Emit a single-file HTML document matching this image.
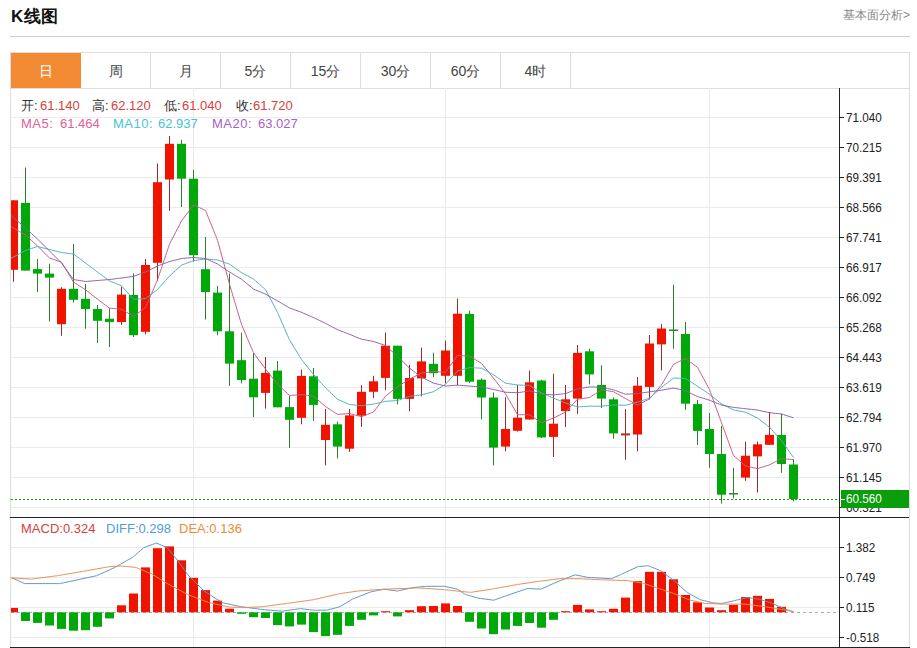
<!DOCTYPE html>
<html><head><meta charset="utf-8"><style>
*{margin:0;padding:0;box-sizing:border-box}
html,body{width:917px;height:648px;overflow:hidden;background:#fff;font-family:"Liberation Sans",sans-serif;position:relative}
.abs{position:absolute}
.title{position:absolute;left:11px;top:5.5px;font-size:17px;letter-spacing:0.6px;font-weight:bold;color:#111;line-height:22px}
.more{position:absolute;left:843px;top:7px;font-size:12px;color:#888;line-height:16px}
.hr{position:absolute;left:10px;top:36px;width:900px;height:1px;background:#d0d0d0}
.box{position:absolute;left:10px;top:52px;width:900px;height:596px;border:1px solid #ddd;border-bottom:none}
.tabrow{position:absolute;left:10px;top:88px;width:900px;height:1px;background:#ddd}
.tab{position:absolute;top:53px;width:70px;height:35px;border-right:1px solid #ddd;text-align:center;font-size:14px;line-height:36px;color:#444}
.tab.on{background:#f28a34;color:#fff;width:70px;border-right:none}
.yl{position:absolute;left:846px;font-size:13px;line-height:17px;color:#222;transform:scaleX(0.9);transform-origin:left}
.pl{position:absolute;left:846px;top:490px;font-size:13px;line-height:18px;color:#fff;transform:scaleX(0.9);transform-origin:left}
.leg{position:absolute;font-size:13px;line-height:16px;white-space:nowrap}
svg{position:absolute;left:0;top:0}
</style></head><body>
<div class="title">K线图</div>
<div class="more">基本面分析&gt;</div>
<div class="hr"></div>
<div class="box"></div>
<div class="tab on" style="left:11px">日</div><div class="tab" style="left:81px">周</div><div class="tab" style="left:151px">月</div><div class="tab" style="left:221px">5分</div><div class="tab" style="left:291px">15分</div><div class="tab" style="left:361px">30分</div><div class="tab" style="left:431px">60分</div><div class="tab" style="left:501px">4时</div>
<div class="tabrow"></div>
<svg width="917" height="648" viewBox="0 0 917 648"><line x1="11" y1="117.5" x2="839" y2="117.5" stroke="#ebebeb" stroke-width="1"/><line x1="11" y1="147.5" x2="839" y2="147.5" stroke="#ebebeb" stroke-width="1"/><line x1="11" y1="177.5" x2="839" y2="177.5" stroke="#ebebeb" stroke-width="1"/><line x1="11" y1="207.5" x2="839" y2="207.5" stroke="#ebebeb" stroke-width="1"/><line x1="11" y1="237.5" x2="839" y2="237.5" stroke="#ebebeb" stroke-width="1"/><line x1="11" y1="267.5" x2="839" y2="267.5" stroke="#ebebeb" stroke-width="1"/><line x1="11" y1="297.5" x2="839" y2="297.5" stroke="#ebebeb" stroke-width="1"/><line x1="11" y1="327.5" x2="839" y2="327.5" stroke="#ebebeb" stroke-width="1"/><line x1="11" y1="357.5" x2="839" y2="357.5" stroke="#ebebeb" stroke-width="1"/><line x1="11" y1="387.5" x2="839" y2="387.5" stroke="#ebebeb" stroke-width="1"/><line x1="11" y1="417.5" x2="839" y2="417.5" stroke="#ebebeb" stroke-width="1"/><line x1="11" y1="447.5" x2="839" y2="447.5" stroke="#ebebeb" stroke-width="1"/><line x1="11" y1="477.5" x2="839" y2="477.5" stroke="#ebebeb" stroke-width="1"/><line x1="11" y1="507.5" x2="839" y2="507.5" stroke="#ebebeb" stroke-width="1"/><line x1="11" y1="547.5" x2="839" y2="547.5" stroke="#ebebeb" stroke-width="1"/><line x1="11" y1="577.5" x2="839" y2="577.5" stroke="#ebebeb" stroke-width="1"/><line x1="11" y1="607.5" x2="839" y2="607.5" stroke="#ebebeb" stroke-width="1"/><line x1="11" y1="637.5" x2="839" y2="637.5" stroke="#ebebeb" stroke-width="1"/><line x1="193.5" y1="88" x2="193.5" y2="647" stroke="#ebebeb" stroke-width="1"/><line x1="445.5" y1="88" x2="445.5" y2="647" stroke="#ebebeb" stroke-width="1"/><line x1="709.5" y1="88" x2="709.5" y2="647" stroke="#ebebeb" stroke-width="1"/><clipPath id="cm"><rect x="11" y="89" width="828" height="428"/></clipPath><clipPath id="cd"><rect x="11" y="518" width="828" height="129"/></clipPath><g clip-path="url(#cm)"><rect x="13" y="200.3" width="1" height="81.5" fill="#a02a2a"/><rect x="9" y="200.3" width="9" height="69.5" fill="#f01400"/><rect x="25" y="167.5" width="1" height="103.1" fill="#2c802c"/><rect x="21" y="202.9" width="9" height="67.7" fill="#00a80a"/><rect x="37" y="259.0" width="1" height="33.0" fill="#2c802c"/><rect x="33" y="269.1" width="9" height="4.5" fill="#00a80a"/><rect x="49" y="263.7" width="1" height="57.6" fill="#2c802c"/><rect x="45" y="273.6" width="9" height="4.0" fill="#00a80a"/><rect x="61" y="287.2" width="1" height="48.6" fill="#a02a2a"/><rect x="57" y="288.8" width="9" height="35.4" fill="#f01400"/><rect x="73" y="244.0" width="1" height="58.5" fill="#2c802c"/><rect x="69" y="288.8" width="9" height="11.0" fill="#00a80a"/><rect x="85" y="284.0" width="1" height="44.7" fill="#2c802c"/><rect x="81" y="298.8" width="9" height="10.2" fill="#00a80a"/><rect x="97" y="305.0" width="1" height="38.0" fill="#2c802c"/><rect x="93" y="309.0" width="9" height="11.8" fill="#00a80a"/><rect x="109" y="308.2" width="1" height="38.8" fill="#2c802c"/><rect x="105" y="318.7" width="9" height="3.4" fill="#00a80a"/><rect x="121" y="286.7" width="1" height="38.1" fill="#a02a2a"/><rect x="117" y="294.6" width="9" height="27.5" fill="#f01400"/><rect x="133" y="273.4" width="1" height="63.6" fill="#2c802c"/><rect x="129" y="295.0" width="9" height="40.2" fill="#00a80a"/><rect x="145" y="259.0" width="1" height="75.5" fill="#a02a2a"/><rect x="141" y="265.0" width="9" height="66.8" fill="#f01400"/><rect x="157" y="163.5" width="1" height="117.3" fill="#a02a2a"/><rect x="153" y="182.2" width="9" height="80.6" fill="#f01400"/><rect x="169" y="136.0" width="1" height="74.9" fill="#a02a2a"/><rect x="165" y="143.8" width="9" height="35.7" fill="#f01400"/><rect x="181" y="139.8" width="1" height="67.2" fill="#2c802c"/><rect x="177" y="143.8" width="9" height="34.9" fill="#00a80a"/><rect x="193" y="170.0" width="1" height="91.5" fill="#2c802c"/><rect x="189" y="178.7" width="9" height="76.5" fill="#00a80a"/><rect x="205" y="237.0" width="1" height="82.5" fill="#2c802c"/><rect x="201" y="269.2" width="9" height="22.8" fill="#00a80a"/><rect x="217" y="286.1" width="1" height="49.1" fill="#2c802c"/><rect x="213" y="292.6" width="9" height="38.7" fill="#00a80a"/><rect x="229" y="273.5" width="1" height="112.4" fill="#2c802c"/><rect x="225" y="331.3" width="9" height="32.3" fill="#00a80a"/><rect x="241" y="332.6" width="1" height="50.8" fill="#2c802c"/><rect x="237" y="360.2" width="9" height="19.8" fill="#00a80a"/><rect x="253" y="353.0" width="1" height="64.1" fill="#2c802c"/><rect x="249" y="378.7" width="9" height="18.6" fill="#00a80a"/><rect x="265" y="357.0" width="1" height="51.6" fill="#a02a2a"/><rect x="261" y="372.9" width="9" height="20.0" fill="#f01400"/><rect x="277" y="361.0" width="1" height="46.3" fill="#2c802c"/><rect x="273" y="370.6" width="9" height="36.7" fill="#00a80a"/><rect x="289" y="396.0" width="1" height="51.9" fill="#2c802c"/><rect x="285" y="407.1" width="9" height="12.7" fill="#00a80a"/><rect x="301" y="369.6" width="1" height="54.7" fill="#a02a2a"/><rect x="297" y="375.9" width="9" height="41.9" fill="#f01400"/><rect x="313" y="368.0" width="1" height="52.9" fill="#2c802c"/><rect x="309" y="376.3" width="9" height="28.6" fill="#00a80a"/><rect x="325" y="409.0" width="1" height="56.4" fill="#a02a2a"/><rect x="321" y="424.8" width="9" height="15.2" fill="#f01400"/><rect x="337" y="421.6" width="1" height="36.8" fill="#2c802c"/><rect x="333" y="424.3" width="9" height="22.3" fill="#00a80a"/><rect x="349" y="409.0" width="1" height="42.8" fill="#a02a2a"/><rect x="345" y="415.4" width="9" height="33.3" fill="#f01400"/><rect x="361" y="385.2" width="1" height="41.7" fill="#a02a2a"/><rect x="357" y="391.8" width="9" height="23.9" fill="#f01400"/><rect x="373" y="375.8" width="1" height="22.3" fill="#a02a2a"/><rect x="369" y="381.3" width="9" height="10.5" fill="#f01400"/><rect x="385" y="332.6" width="1" height="57.6" fill="#a02a2a"/><rect x="381" y="345.7" width="9" height="32.2" fill="#f01400"/><rect x="397" y="345.7" width="1" height="58.7" fill="#2c802c"/><rect x="393" y="345.7" width="9" height="53.2" fill="#00a80a"/><rect x="409" y="364.9" width="1" height="46.3" fill="#a02a2a"/><rect x="405" y="378.0" width="9" height="20.9" fill="#f01400"/><rect x="421" y="347.6" width="1" height="48.7" fill="#a02a2a"/><rect x="417" y="361.4" width="9" height="17.0" fill="#f01400"/><rect x="433" y="352.8" width="1" height="24.3" fill="#2c802c"/><rect x="429" y="363.8" width="9" height="9.4" fill="#00a80a"/><rect x="445" y="340.5" width="1" height="42.9" fill="#a02a2a"/><rect x="441" y="350.5" width="9" height="25.3" fill="#f01400"/><rect x="457" y="298.5" width="1" height="86.5" fill="#a02a2a"/><rect x="453" y="313.7" width="9" height="62.1" fill="#f01400"/><rect x="469" y="310.6" width="1" height="72.6" fill="#2c802c"/><rect x="465" y="313.9" width="9" height="67.8" fill="#00a80a"/><rect x="481" y="378.4" width="1" height="41.1" fill="#2c802c"/><rect x="477" y="379.7" width="9" height="17.8" fill="#00a80a"/><rect x="493" y="392.5" width="1" height="72.9" fill="#2c802c"/><rect x="489" y="397.5" width="9" height="50.1" fill="#00a80a"/><rect x="505" y="397.3" width="1" height="54.0" fill="#a02a2a"/><rect x="501" y="429.0" width="9" height="17.6" fill="#f01400"/><rect x="517" y="385.0" width="1" height="46.6" fill="#a02a2a"/><rect x="513" y="417.7" width="9" height="13.1" fill="#f01400"/><rect x="529" y="370.5" width="1" height="49.0" fill="#a02a2a"/><rect x="525" y="382.3" width="9" height="37.2" fill="#f01400"/><rect x="541" y="379.7" width="1" height="58.2" fill="#2c802c"/><rect x="537" y="380.5" width="9" height="56.9" fill="#00a80a"/><rect x="553" y="373.7" width="1" height="83.3" fill="#a02a2a"/><rect x="549" y="423.7" width="9" height="13.2" fill="#f01400"/><rect x="565" y="385.0" width="1" height="41.9" fill="#a02a2a"/><rect x="561" y="399.3" width="9" height="11.8" fill="#f01400"/><rect x="577" y="345.0" width="1" height="68.8" fill="#a02a2a"/><rect x="573" y="352.9" width="9" height="45.7" fill="#f01400"/><rect x="589" y="348.7" width="1" height="35.7" fill="#2c802c"/><rect x="585" y="351.3" width="9" height="23.1" fill="#00a80a"/><rect x="601" y="365.2" width="1" height="42.8" fill="#2c802c"/><rect x="597" y="384.9" width="9" height="13.7" fill="#00a80a"/><rect x="613" y="397.5" width="1" height="41.2" fill="#2c802c"/><rect x="609" y="399.3" width="9" height="34.1" fill="#00a80a"/><rect x="625" y="409.1" width="1" height="50.6" fill="#a02a2a"/><rect x="621" y="433.4" width="9" height="2.0" fill="#b82a22"/><rect x="637" y="377.0" width="1" height="74.3" fill="#a02a2a"/><rect x="633" y="385.7" width="9" height="48.8" fill="#f01400"/><rect x="649" y="335.0" width="1" height="64.3" fill="#a02a2a"/><rect x="645" y="343.5" width="9" height="43.4" fill="#f01400"/><rect x="661" y="324.1" width="1" height="46.3" fill="#a02a2a"/><rect x="657" y="328.5" width="9" height="15.9" fill="#f01400"/><rect x="673" y="284.7" width="1" height="64.1" fill="#2c802c"/><rect x="669" y="329.5" width="9" height="1.5" fill="#2a8a2a"/><rect x="685" y="322.0" width="1" height="87.8" fill="#2c802c"/><rect x="681" y="334.0" width="9" height="69.7" fill="#00a80a"/><rect x="697" y="400.0" width="1" height="45.0" fill="#2c802c"/><rect x="693" y="404.1" width="9" height="26.8" fill="#00a80a"/><rect x="709" y="413.0" width="1" height="54.8" fill="#2c802c"/><rect x="705" y="429.0" width="9" height="25.0" fill="#00a80a"/><rect x="721" y="426.1" width="1" height="77.4" fill="#2c802c"/><rect x="717" y="454.0" width="9" height="40.7" fill="#00a80a"/><rect x="733" y="467.8" width="1" height="30.6" fill="#2c802c"/><rect x="729" y="493.0" width="9" height="1.5" fill="#2a8a2a"/><rect x="745" y="441.5" width="1" height="39.3" fill="#a02a2a"/><rect x="741" y="455.7" width="9" height="21.9" fill="#f01400"/><rect x="757" y="441.5" width="1" height="51.0" fill="#a02a2a"/><rect x="753" y="444.3" width="9" height="12.1" fill="#f01400"/><rect x="769" y="411.9" width="1" height="32.9" fill="#a02a2a"/><rect x="765" y="434.9" width="9" height="9.9" fill="#f01400"/><rect x="781" y="413.7" width="1" height="59.1" fill="#2c802c"/><rect x="777" y="434.9" width="9" height="29.1" fill="#00a80a"/><rect x="793" y="459.0" width="1" height="42.3" fill="#2c802c"/><rect x="789" y="464.5" width="9" height="34.5" fill="#00a80a"/><path fill="none" stroke="#c85a86" stroke-width="1" d="M1.50,220.00 C1.50,220.00 13.50,228.00 13.50,228.00 C13.50,228.00 25.50,235.00 25.50,235.00 C25.50,235.00 37.50,246.00 37.50,246.00 C37.50,246.00 49.50,258.00 49.50,258.00 C49.50,258.00 61.50,262.18 61.50,262.18 C61.50,262.18 73.50,282.08 73.50,282.08 C73.50,282.08 85.50,289.76 85.50,289.76 C85.50,289.76 97.50,299.20 97.50,299.20 C97.50,299.20 109.50,308.10 109.50,308.10 C109.50,308.10 121.50,309.26 121.50,309.26 C121.50,309.26 133.50,316.34 133.50,316.34 C133.50,316.34 145.50,307.54 145.50,307.54 C145.50,307.54 157.50,279.82 157.50,279.82 C157.50,279.82 169.50,244.16 169.50,244.16 C169.50,244.16 181.50,220.98 181.50,220.98 C181.50,220.98 193.50,204.98 193.50,204.98 C193.50,204.98 205.50,210.38 205.50,210.38 C205.50,210.38 217.50,240.20 217.50,240.20 C217.50,240.20 229.50,284.16 229.50,284.16 C229.50,284.16 241.50,324.42 241.50,324.42 C241.50,324.42 253.50,352.84 253.50,352.84 C253.50,352.84 265.50,369.02 265.50,369.02 C265.50,369.02 277.50,384.22 277.50,384.22 C277.50,384.22 289.50,395.46 289.50,395.46 C289.50,395.46 301.50,394.64 301.50,394.64 C301.50,394.64 313.50,396.16 313.50,396.16 C313.50,396.16 325.50,406.54 325.50,406.54 C325.50,406.54 337.50,414.40 337.50,414.40 C337.50,414.40 349.50,413.52 349.50,413.52 C349.50,413.52 361.50,416.70 361.50,416.70 C361.50,416.70 373.50,411.98 373.50,411.98 C373.50,411.98 385.50,396.16 385.50,396.16 C385.50,396.16 397.50,386.62 397.50,386.62 C397.50,386.62 409.50,379.14 409.50,379.14 C409.50,379.14 421.50,373.06 421.50,373.06 C421.50,373.06 433.50,371.44 433.50,371.44 C433.50,371.44 445.50,372.40 445.50,372.40 C445.50,372.40 457.50,355.36 457.50,355.36 C457.50,355.36 469.50,356.10 469.50,356.10 C469.50,356.10 481.50,363.32 481.50,363.32 C481.50,363.32 493.50,378.20 493.50,378.20 C493.50,378.20 505.50,393.90 505.50,393.90 C505.50,393.90 517.50,414.70 517.50,414.70 C517.50,414.70 529.50,414.82 529.50,414.82 C529.50,414.82 541.50,422.80 541.50,422.80 C541.50,422.80 553.50,418.02 553.50,418.02 C553.50,418.02 565.50,412.08 565.50,412.08 C565.50,412.08 577.50,399.12 577.50,399.12 C577.50,399.12 589.50,397.54 589.50,397.54 C589.50,397.54 601.50,389.78 601.50,389.78 C601.50,389.78 613.50,391.72 613.50,391.72 C613.50,391.72 625.50,398.54 625.50,398.54 C625.50,398.54 637.50,405.10 637.50,405.10 C637.50,405.10 649.50,398.92 649.50,398.92 C649.50,398.92 661.50,384.90 661.50,384.90 C661.50,384.90 673.50,364.32 673.50,364.32 C673.50,364.32 685.50,358.38 685.50,358.38 C685.50,358.38 697.50,367.42 697.50,367.42 C697.50,367.42 709.50,389.52 709.50,389.52 C709.50,389.52 721.50,422.76 721.50,422.76 C721.50,422.76 733.50,455.56 733.50,455.56 C733.50,455.56 745.50,465.96 745.50,465.96 C745.50,465.96 757.50,468.64 757.50,468.64 C757.50,468.64 769.50,464.82 769.50,464.82 C769.50,464.82 781.50,458.68 781.50,458.68 C781.50,458.68 793.50,459.58 793.50,459.58"/><path fill="none" stroke="#4cb0bc" stroke-width="1" d="M1.50,262.00 C1.50,262.00 13.50,257.00 13.50,257.00 C13.50,257.00 25.50,250.50 25.50,250.50 C25.50,250.50 37.50,246.50 37.50,246.50 C37.50,246.50 49.50,249.50 49.50,249.50 C49.50,249.50 61.50,252.50 61.50,252.50 C61.50,252.50 73.50,254.00 73.50,254.00 C73.50,254.00 85.50,263.00 85.50,263.00 C85.50,263.00 97.50,272.00 97.50,272.00 C97.50,272.00 109.50,281.00 109.50,281.00 C109.50,281.00 121.50,285.72 121.50,285.72 C121.50,285.72 133.50,299.21 133.50,299.21 C133.50,299.21 145.50,298.65 145.50,298.65 C145.50,298.65 157.50,289.51 157.50,289.51 C157.50,289.51 169.50,276.13 169.50,276.13 C169.50,276.13 181.50,265.12 181.50,265.12 C181.50,265.12 193.50,260.66 193.50,260.66 C193.50,260.66 205.50,258.96 205.50,258.96 C205.50,258.96 217.50,260.01 217.50,260.01 C217.50,260.01 229.50,264.16 229.50,264.16 C229.50,264.16 241.50,272.70 241.50,272.70 C241.50,272.70 253.50,278.91 253.50,278.91 C253.50,278.91 265.50,289.70 265.50,289.70 C265.50,289.70 277.50,312.21 277.50,312.21 C277.50,312.21 289.50,339.81 289.50,339.81 C289.50,339.81 301.50,359.53 301.50,359.53 C301.50,359.53 313.50,374.50 313.50,374.50 C313.50,374.50 325.50,387.78 325.50,387.78 C325.50,387.78 337.50,399.31 337.50,399.31 C337.50,399.31 349.50,404.49 349.50,404.49 C349.50,404.49 361.50,405.67 361.50,405.67 C361.50,405.67 373.50,404.07 373.50,404.07 C373.50,404.07 385.50,401.35 385.50,401.35 C385.50,401.35 397.50,400.51 397.50,400.51 C397.50,400.51 409.50,396.33 409.50,396.33 C409.50,396.33 421.50,394.88 421.50,394.88 C421.50,394.88 433.50,391.71 433.50,391.71 C433.50,391.71 445.50,384.28 445.50,384.28 C445.50,384.28 457.50,370.99 457.50,370.99 C457.50,370.99 469.50,367.62 469.50,367.62 C469.50,367.62 481.50,368.19 481.50,368.19 C481.50,368.19 493.50,374.82 493.50,374.82 C493.50,374.82 505.50,383.15 505.50,383.15 C505.50,383.15 517.50,385.03 517.50,385.03 C517.50,385.03 529.50,385.46 529.50,385.46 C529.50,385.46 541.50,393.06 541.50,393.06 C541.50,393.06 553.50,398.11 553.50,398.11 C553.50,398.11 565.50,402.99 565.50,402.99 C565.50,402.99 577.50,406.91 577.50,406.91 C577.50,406.91 589.50,406.18 589.50,406.18 C589.50,406.18 601.50,406.29 601.50,406.29 C601.50,406.29 613.50,404.87 613.50,404.87 C613.50,404.87 625.50,405.31 625.50,405.31 C625.50,405.31 637.50,402.11 637.50,402.11 C637.50,402.11 649.50,398.23 649.50,398.23 C649.50,398.23 661.50,387.34 661.50,387.34 C661.50,387.34 673.50,378.02 673.50,378.02 C673.50,378.02 685.50,378.46 685.50,378.46 C685.50,378.46 697.50,386.26 697.50,386.26 C697.50,386.26 709.50,394.22 709.50,394.22 C709.50,394.22 721.50,403.83 721.50,403.83 C721.50,403.83 733.50,409.94 733.50,409.94 C733.50,409.94 745.50,412.17 745.50,412.17 C745.50,412.17 757.50,418.03 757.50,418.03 C757.50,418.03 769.50,427.17 769.50,427.17 C769.50,427.17 781.50,440.72 781.50,440.72 C781.50,440.72 793.50,457.57 793.50,457.57"/><path fill="none" stroke="#905ea4" stroke-width="1" d="M1.50,207.00 C1.50,207.00 13.50,217.50 13.50,217.50 C13.50,217.50 25.50,228.00 25.50,228.00 C25.50,228.00 37.50,239.00 37.50,239.00 C37.50,239.00 49.50,251.00 49.50,251.00 C49.50,251.00 61.50,263.00 61.50,263.00 C61.50,263.00 73.50,279.50 73.50,279.50 C73.50,279.50 85.50,281.50 85.50,281.50 C85.50,281.50 97.50,280.50 97.50,280.50 C97.50,280.50 109.50,279.50 109.50,279.50 C109.50,279.50 121.50,278.00 121.50,278.00 C121.50,278.00 133.50,276.40 133.50,276.40 C133.50,276.40 145.50,272.00 145.50,272.00 C145.50,272.00 157.50,266.00 157.50,266.00 C157.50,266.00 169.50,261.50 169.50,261.50 C169.50,261.50 181.50,258.50 181.50,258.50 C181.50,258.50 193.50,257.50 193.50,257.50 C193.50,257.50 205.50,258.50 205.50,258.50 C205.50,258.50 217.50,264.00 217.50,264.00 C217.50,264.00 229.50,272.00 229.50,272.00 C229.50,272.00 241.50,279.21 241.50,279.21 C241.50,279.21 253.50,289.06 253.50,289.06 C253.50,289.06 265.50,294.18 265.50,294.18 C265.50,294.18 277.50,300.86 277.50,300.86 C277.50,300.86 289.50,307.97 289.50,307.97 C289.50,307.97 301.50,312.32 301.50,312.32 C301.50,312.32 313.50,317.58 313.50,317.58 C313.50,317.58 325.50,323.37 325.50,323.37 C325.50,323.37 337.50,329.66 337.50,329.66 C337.50,329.66 349.50,334.32 349.50,334.32 C349.50,334.32 361.50,339.19 361.50,339.19 C361.50,339.19 373.50,341.49 373.50,341.49 C373.50,341.49 385.50,345.52 385.50,345.52 C385.50,345.52 397.50,356.36 397.50,356.36 C397.50,356.36 409.50,368.07 409.50,368.07 C409.50,368.07 421.50,377.21 421.50,377.21 C421.50,377.21 433.50,383.11 433.50,383.11 C433.50,383.11 445.50,386.03 445.50,386.03 C445.50,386.03 457.50,385.15 457.50,385.15 C457.50,385.15 469.50,386.06 469.50,386.06 C469.50,386.06 481.50,386.93 481.50,386.93 C481.50,386.93 493.50,389.44 493.50,389.44 C493.50,389.44 505.50,392.25 505.50,392.25 C505.50,392.25 517.50,392.77 517.50,392.77 C517.50,392.77 529.50,390.89 529.50,390.89 C529.50,390.89 541.50,393.97 541.50,393.97 C541.50,393.97 553.50,394.91 553.50,394.91 C553.50,394.91 565.50,393.63 565.50,393.63 C565.50,393.63 577.50,388.95 577.50,388.95 C577.50,388.95 589.50,386.90 589.50,386.90 C589.50,386.90 601.50,387.24 601.50,387.24 C601.50,387.24 613.50,389.84 613.50,389.84 C613.50,389.84 625.50,394.23 625.50,394.23 C625.50,394.23 637.50,393.57 637.50,393.57 C637.50,393.57 649.50,391.84 649.50,391.84 C649.50,391.84 661.50,390.20 661.50,390.20 C661.50,390.20 673.50,388.06 673.50,388.06 C673.50,388.06 685.50,390.73 685.50,390.73 C685.50,390.73 697.50,396.58 697.50,396.58 C697.50,396.58 709.50,400.20 709.50,400.20 C709.50,400.20 721.50,405.06 721.50,405.06 C721.50,405.06 733.50,407.40 733.50,407.40 C733.50,407.40 745.50,408.74 745.50,408.74 C745.50,408.74 757.50,410.07 757.50,410.07 C757.50,410.07 769.50,412.70 769.50,412.70 C769.50,412.70 781.50,414.03 781.50,414.03 C781.50,414.03 793.50,417.79 793.50,417.79"/><line x1="11" y1="499.5" x2="839" y2="499.5" stroke="#1a9a1a" stroke-width="1" stroke-dasharray="2,2"/></g><g clip-path="url(#cd)"><line x1="11" y1="612.5" x2="839" y2="612.5" stroke="#aab" stroke-width="1" stroke-dasharray="3,3"/><rect x="9" y="607.9" width="9" height="4.4" fill="#f01400"/><rect x="21" y="612.3" width="9" height="8.7" fill="#00a80a"/><rect x="33" y="612.3" width="9" height="10.6" fill="#00a80a"/><rect x="45" y="612.3" width="9" height="13.2" fill="#00a80a"/><rect x="57" y="612.3" width="9" height="16.6" fill="#00a80a"/><rect x="69" y="612.3" width="9" height="18.4" fill="#00a80a"/><rect x="81" y="612.3" width="9" height="17.9" fill="#00a80a"/><rect x="93" y="612.3" width="9" height="14.5" fill="#00a80a"/><rect x="105" y="612.3" width="9" height="6.1" fill="#00a80a"/><rect x="117" y="605.3" width="9" height="7.0" fill="#f01400"/><rect x="129" y="593.5" width="9" height="18.8" fill="#f01400"/><rect x="141" y="567.4" width="9" height="44.9" fill="#f01400"/><rect x="153" y="548.2" width="9" height="64.1" fill="#f01400"/><rect x="165" y="546.4" width="9" height="65.9" fill="#f01400"/><rect x="177" y="560.3" width="9" height="52.0" fill="#f01400"/><rect x="189" y="577.8" width="9" height="34.5" fill="#f01400"/><rect x="201" y="590.1" width="9" height="22.2" fill="#f01400"/><rect x="213" y="600.6" width="9" height="11.7" fill="#f01400"/><rect x="225" y="608.7" width="9" height="3.6" fill="#f01400"/><rect x="237" y="612.3" width="9" height="1.5" fill="#00a80a"/><rect x="249" y="612.3" width="9" height="4.9" fill="#00a80a"/><rect x="261" y="612.3" width="9" height="5.7" fill="#00a80a"/><rect x="273" y="612.3" width="9" height="12.8" fill="#00a80a"/><rect x="285" y="612.3" width="9" height="14.1" fill="#00a80a"/><rect x="297" y="612.3" width="9" height="12.3" fill="#00a80a"/><rect x="309" y="612.3" width="9" height="19.8" fill="#00a80a"/><rect x="321" y="612.3" width="9" height="23.8" fill="#00a80a"/><rect x="333" y="612.3" width="9" height="22.5" fill="#00a80a"/><rect x="345" y="612.3" width="9" height="13.6" fill="#00a80a"/><rect x="357" y="612.3" width="9" height="7.5" fill="#00a80a"/><rect x="369" y="612.3" width="9" height="3.1" fill="#00a80a"/><rect x="381" y="611.2" width="9" height="1.1" fill="#f01400"/><rect x="393" y="612.3" width="9" height="4.1" fill="#00a80a"/><rect x="405" y="610.2" width="9" height="2.1" fill="#f01400"/><rect x="417" y="606.2" width="9" height="6.1" fill="#f01400"/><rect x="429" y="606.0" width="9" height="6.3" fill="#f01400"/><rect x="441" y="603.4" width="9" height="8.9" fill="#f01400"/><rect x="453" y="606.0" width="9" height="6.3" fill="#f01400"/><rect x="465" y="612.3" width="9" height="9.5" fill="#00a80a"/><rect x="477" y="612.3" width="9" height="16.2" fill="#00a80a"/><rect x="489" y="612.3" width="9" height="21.9" fill="#00a80a"/><rect x="501" y="612.3" width="9" height="17.2" fill="#00a80a"/><rect x="513" y="612.3" width="9" height="13.6" fill="#00a80a"/><rect x="525" y="612.3" width="9" height="10.7" fill="#00a80a"/><rect x="537" y="612.3" width="9" height="15.4" fill="#00a80a"/><rect x="549" y="612.3" width="9" height="7.5" fill="#00a80a"/><rect x="561" y="611.2" width="9" height="1.1" fill="#f01400"/><rect x="573" y="604.9" width="9" height="7.4" fill="#f01400"/><rect x="585" y="609.4" width="9" height="2.9" fill="#f01400"/><rect x="597" y="611.2" width="9" height="1.1" fill="#f01400"/><rect x="609" y="608.8" width="9" height="3.5" fill="#f01400"/><rect x="621" y="597.6" width="9" height="14.7" fill="#f01400"/><rect x="633" y="581.1" width="9" height="31.2" fill="#f01400"/><rect x="645" y="571.8" width="9" height="40.5" fill="#f01400"/><rect x="657" y="571.8" width="9" height="40.5" fill="#f01400"/><rect x="669" y="579.3" width="9" height="33.0" fill="#f01400"/><rect x="681" y="595.0" width="9" height="17.3" fill="#f01400"/><rect x="693" y="602.3" width="9" height="10.0" fill="#f01400"/><rect x="705" y="607.5" width="9" height="4.8" fill="#f01400"/><rect x="717" y="610.2" width="9" height="2.1" fill="#f01400"/><rect x="729" y="604.9" width="9" height="7.4" fill="#f01400"/><rect x="741" y="597.1" width="9" height="15.2" fill="#f01400"/><rect x="753" y="595.8" width="9" height="16.5" fill="#f01400"/><rect x="765" y="598.9" width="9" height="13.4" fill="#f01400"/><rect x="777" y="606.8" width="9" height="5.5" fill="#f01400"/><rect x="789" y="612.3" width="9" height="0.0" fill="#00a80a"/><path fill="none" stroke="#5c94cc" stroke-width="1" d="M5.00,576.00 C5.00,576.00 10.80,577.30 10.80,577.30 C10.80,577.30 24.60,583.60 24.60,583.60 C24.60,583.60 60.00,583.60 60.00,583.60 C60.00,583.60 96.60,575.70 96.60,575.70 C96.60,575.70 115.00,567.40 115.00,567.40 C115.00,567.40 133.30,556.90 133.30,556.90 C133.30,556.90 143.70,547.70 143.70,547.70 C143.70,547.70 156.30,543.00 156.30,543.00 C156.30,543.00 167.30,547.70 167.30,547.70 C167.30,547.70 177.80,560.80 177.80,560.80 C177.80,560.80 188.20,575.20 188.20,575.20 C188.20,575.20 204.00,590.90 204.00,590.90 C204.00,590.90 222.30,602.70 222.30,602.70 C222.30,602.70 240.60,606.60 240.60,606.60 C240.60,606.60 261.20,609.40 261.20,609.40 C261.20,609.40 282.10,611.20 282.10,611.20 C282.10,611.20 300.40,608.60 300.40,608.60 C300.40,608.60 313.50,610.20 313.50,610.20 C313.50,610.20 326.60,610.20 326.60,610.20 C326.60,610.20 339.70,606.80 339.70,606.80 C339.70,606.80 352.80,598.90 352.80,598.90 C352.80,598.90 371.10,591.80 371.10,591.80 C371.10,591.80 384.20,589.20 384.20,589.20 C384.20,589.20 397.30,591.00 397.30,591.00 C397.30,591.00 413.00,587.60 413.00,587.60 C413.00,587.60 426.10,586.30 426.10,586.30 C426.10,586.30 444.40,586.30 444.40,586.30 C444.40,586.30 457.50,589.20 457.50,589.20 C457.50,589.20 465.40,594.50 465.40,594.50 C465.40,594.50 478.10,598.10 478.10,598.10 C478.10,598.10 493.80,600.20 493.80,600.20 C493.80,600.20 506.90,595.50 506.90,595.50 C506.90,595.50 527.80,588.40 527.80,588.40 C527.80,588.40 540.90,589.20 540.90,589.20 C540.90,589.20 554.00,583.20 554.00,583.20 C554.00,583.20 575.00,574.80 575.00,574.80 C575.00,574.80 588.00,577.40 588.00,577.40 C588.00,577.40 611.60,578.70 611.60,578.70 C611.60,578.70 622.00,574.00 622.00,574.00 C622.00,574.00 637.80,566.70 637.80,566.70 C637.80,566.70 648.20,565.70 648.20,565.70 C648.20,565.70 661.00,570.90 661.00,570.90 C661.00,570.90 674.00,580.60 674.00,580.60 C674.00,580.60 687.10,592.40 687.10,592.40 C687.10,592.40 700.20,599.70 700.20,599.70 C700.20,599.70 713.30,602.80 713.30,602.80 C713.30,602.80 721.20,603.60 721.20,603.60 C721.20,603.60 734.20,600.70 734.20,600.70 C734.20,600.70 747.30,597.60 747.30,597.60 C747.30,597.60 757.80,598.90 757.80,598.90 C757.80,598.90 770.90,602.80 770.90,602.80 C770.90,602.80 784.00,608.60 784.00,608.60 C784.00,608.60 793.50,612.00 793.50,612.00"/><path fill="none" stroke="#ea8c50" stroke-width="1" d="M5.00,577.50 C5.00,577.50 10.80,577.80 10.80,577.80 C10.80,577.80 31.20,579.10 31.20,579.10 C31.20,579.10 57.40,575.70 57.40,575.70 C57.40,575.70 83.50,571.30 83.50,571.30 C83.50,571.30 109.70,566.60 109.70,566.60 C109.70,566.60 120.20,566.00 120.20,566.00 C120.20,566.00 135.90,567.40 135.90,567.40 C135.90,567.40 151.60,573.90 151.60,573.90 C151.60,573.90 167.30,583.60 167.30,583.60 C167.30,583.60 188.20,594.80 188.20,594.80 C188.20,594.80 209.20,602.70 209.20,602.70 C209.20,602.70 230.10,607.10 230.10,607.10 C230.10,607.10 245.00,607.50 245.00,607.50 C245.00,607.50 261.20,606.80 261.20,606.80 C261.20,606.80 287.40,603.40 287.40,603.40 C287.40,603.40 313.50,599.70 313.50,599.70 C313.50,599.70 339.70,593.70 339.70,593.70 C339.70,593.70 358.00,591.00 358.00,591.00 C358.00,591.00 384.20,589.20 384.20,589.20 C384.20,589.20 418.20,587.90 418.20,587.90 C418.20,587.90 444.40,589.70 444.40,589.70 C444.40,589.70 470.60,592.40 470.60,592.40 C470.60,592.40 491.20,589.20 491.20,589.20 C491.20,589.20 517.40,584.50 517.40,584.50 C517.40,584.50 538.30,581.40 538.30,581.40 C538.30,581.40 559.20,578.70 559.20,578.70 C559.20,578.70 580.20,578.70 580.20,578.70 C580.20,578.70 601.10,579.80 601.10,579.80 C601.10,579.80 627.30,580.60 627.30,580.60 C627.30,580.60 643.00,583.20 643.00,583.20 C643.00,583.20 658.70,588.40 658.70,588.40 C658.70,588.40 674.40,593.70 674.40,593.70 C674.40,593.70 690.10,600.20 690.10,600.20 C690.10,600.20 705.40,603.40 705.40,603.40 C705.40,603.40 723.80,604.10 723.80,604.10 C723.80,604.10 744.70,604.10 744.70,604.10 C744.70,604.10 765.70,606.80 765.70,606.80 C765.70,606.80 781.40,609.40 781.40,609.40 C781.40,609.40 793.50,611.50 793.50,611.50"/></g><rect x="839" y="88" width="1" height="559" fill="#222"/><rect x="10" y="517" width="899" height="1" fill="#222"/><rect x="10" y="647" width="900" height="1" fill="#222"/><rect x="839" y="117" width="5" height="1" fill="#222"/><rect x="839" y="147" width="5" height="1" fill="#222"/><rect x="839" y="177" width="5" height="1" fill="#222"/><rect x="839" y="207" width="5" height="1" fill="#222"/><rect x="839" y="237" width="5" height="1" fill="#222"/><rect x="839" y="267" width="5" height="1" fill="#222"/><rect x="839" y="297" width="5" height="1" fill="#222"/><rect x="839" y="327" width="5" height="1" fill="#222"/><rect x="839" y="357" width="5" height="1" fill="#222"/><rect x="839" y="387" width="5" height="1" fill="#222"/><rect x="839" y="417" width="5" height="1" fill="#222"/><rect x="839" y="447" width="5" height="1" fill="#222"/><rect x="839" y="477" width="5" height="1" fill="#222"/><rect x="839" y="507" width="5" height="1" fill="#222"/><rect x="839" y="547" width="5" height="1" fill="#222"/><rect x="839" y="577" width="5" height="1" fill="#222"/><rect x="839" y="607" width="5" height="1" fill="#222"/><rect x="839" y="637" width="5" height="1" fill="#222"/></svg>
<div class="yl" style="top:109px">71.040</div><div class="yl" style="top:139px">70.215</div><div class="yl" style="top:169px">69.391</div><div class="yl" style="top:199px">68.566</div><div class="yl" style="top:229px">67.741</div><div class="yl" style="top:259px">66.917</div><div class="yl" style="top:289px">66.092</div><div class="yl" style="top:319px">65.268</div><div class="yl" style="top:349px">64.443</div><div class="yl" style="top:379px">63.619</div><div class="yl" style="top:409px">62.794</div><div class="yl" style="top:439px">61.970</div><div class="yl" style="top:469px">61.145</div><div class="yl" style="top:499px">60.321</div><div class="yl" style="top:539px">1.382</div><div class="yl" style="top:569px">0.749</div><div class="yl" style="top:599px">0.115</div><div class="yl" style="top:629px">-0.518</div>
<div class="abs" style="left:841px;top:490px;width:68px;height:18px;background:#0a9e0a"></div><div class="abs" style="left:841px;top:499px;width:4px;height:1px;background:#fff"></div><div class="pl">60.560</div>
<div class="leg" style="left:21px;top:98px;color:#333">开:</div><div class="leg" style="left:40px;top:98px;color:#d9403a">61.140</div>
<div class="leg" style="left:92px;top:98px;color:#333">高:</div><div class="leg" style="left:111px;top:98px;color:#d9403a">62.120</div>
<div class="leg" style="left:164px;top:98px;color:#333">低:</div><div class="leg" style="left:182px;top:98px;color:#d9403a">61.040</div>
<div class="leg" style="left:236px;top:98px;color:#333">收:</div><div class="leg" style="left:253px;top:98px;color:#d9403a">61.720</div>
<div class="leg" style="left:21px;top:116px;letter-spacing:0.5px;color:#e0609a">MA5:</div><div class="leg" style="left:60px;top:116px;color:#e0609a">61.464</div>
<div class="leg" style="left:113px;top:116px;letter-spacing:0.5px;color:#46c3d6">MA10:</div><div class="leg" style="left:158px;top:116px;color:#46c3d6">62.937</div>
<div class="leg" style="left:212px;top:116px;letter-spacing:0.5px;color:#a55fc6">MA20:</div><div class="leg" style="left:258px;top:116px;color:#a55fc6">63.027</div>
<div class="leg" style="left:21px;top:521px;color:#d9403a">MACD:0.324</div>
<div class="leg" style="left:106px;top:521px;color:#4a9ee0">DIFF:0.298</div>
<div class="leg" style="left:179px;top:521px;color:#f08a3a">DEA:0.136</div>
</body></html>
